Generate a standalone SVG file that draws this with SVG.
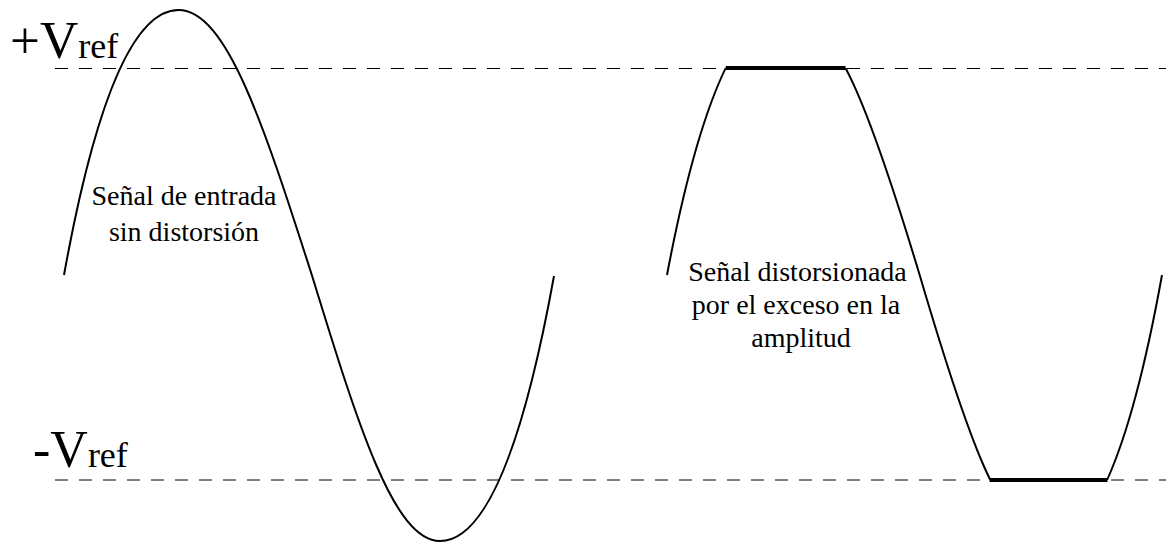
<svg xmlns="http://www.w3.org/2000/svg" width="1166" height="544" viewBox="0 0 1166 544" font-family="'Liberation Serif', 'Times New Roman', serif">
  <style>
    .ref { stroke: #000; stroke-width: 1; stroke-dasharray: 13 11; fill: none; }
    .wave { stroke: #000; stroke-width: 2; fill: none; }
    .clip { stroke: #000; stroke-width: 4; fill: none; }
    text { font-family: 'Liberation Serif', 'Times New Roman', serif; fill: #000; }
    .big { font-size: 52px; }
    .sub { font-size: 36px; }
    .lbl { font-size: 28px; text-anchor: middle; }
  </style>
  <defs>
    <clipPath id="clamp">
      <rect x="600" y="68" width="566" height="412"/>
    </clipPath>
  </defs>
  <rect width="1166" height="544" fill="#fff"/>

  <g id="reference-lines">
    <line class="ref" x1="55" y1="68.5" x2="1166" y2="68.5"/>
    <line class="ref" x1="55" y1="480" x2="1166" y2="480"/>
  </g>

  <g id="label-vref-pos">
    <text class="big" x="10" y="58" style="font-size:53px">+V<tspan class="sub">ref</tspan></text>
  </g>
  <g id="label-vref-neg">
    <text class="big" x="33" y="467">-V<tspan class="sub">ref</tspan></text>
  </g>

  <g id="input-signal">
    <path class="wave" d="M64,275 Q112,10 178.5,10 C226.6,10 263.9,125.5 312,275.5 C358.1,425.5 393.9,541 440,541 Q506,541 554,276"/>
    <text class="lbl" x="184" y="205">Señal de entrada</text>
    <text class="lbl" x="184" y="241">sin distorsión</text>
  </g>

  <g id="distorted-signal">
    <path class="wave" clip-path="url(#clamp)" d="M667,275 Q717.1,10 786.3,10 C834.4,10 873,120 919.8,275.5 C964,425.5 1001.8,541 1048,541 Q1114,541 1162,275"/>
    <line class="clip" x1="725.7" y1="68" x2="845.5" y2="68"/>
    <line class="clip" x1="989.5" y1="480" x2="1107.5" y2="480"/>
    <text class="lbl" x="797.5" y="280.5">Señal distorsionada</text>
    <text class="lbl" x="796" y="314">por el exceso en la</text>
    <text class="lbl" x="801" y="347">amplitud</text>
  </g>
</svg>
